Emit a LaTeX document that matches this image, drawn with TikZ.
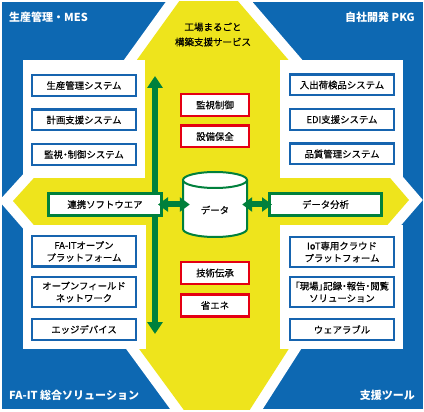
\documentclass[tikz,border=0pt]{standalone}
\usepackage{fontspec}
\setmainfont{Noto Sans CJK JP}
\newfontfamily\jpmed{Noto Sans CJK JP}[FakeBold=0.35]
\usetikzlibrary{arrows.meta}
\definecolor{bgblue}{RGB}{13,104,178}
\definecolor{bxblue}{RGB}{22,100,175}
\definecolor{ylw}{RGB}{238,228,28}
\definecolor{grn}{RGB}{0,128,60}
\definecolor{rd}{RGB}{228,0,18}
\begin{document}
\begin{tikzpicture}[x=1pt,y=-1pt,
  boxtext/.style={font=\jpmed\fontsize{9.4}{12.2}\selectfont, align=center, inner sep=0pt},
  bluebox/.style={boxtext, draw=bxblue, line width=2.4pt, fill=white, minimum width=103.6pt, minimum height=20.6pt},
  redbox/.style={boxtext, draw=rd, line width=2.4pt, fill=white, minimum width=67.6pt, minimum height=21.6pt},
  greenbox/.style={boxtext, draw=grn, line width=2.6pt, fill=white, minimum height=22.5pt},
  corner/.style={font=\fontsize{11}{13}\selectfont\bfseries, text=white, inner sep=0pt},
  garrow/.style={draw=grn, line width=6pt, {Triangle[width=14pt,length=10pt]}-{Triangle[width=14pt,length=10pt]}},
  vgarrow/.style={draw=grn, line width=6pt, {Triangle[width=15pt,length=12pt]}-{Triangle[width=15pt,length=12pt]}}
]
\useasboundingbox (0,0) rectangle (424,412);
% background and yellow diamond
\begin{scope}
  \clip (2,2) rectangle (423,409);
  \fill[bgblue] (2,2) rectangle (423,409);
  \draw[white, line width=21pt, line join=miter, miter limit=10]
    (206,-36) -- (409,200) -- (313,311) -- (219,458) -- (126,331) -- (13,201) -- (121,82) -- cycle;
  \fill[ylw]
    (206,-36) -- (409,200) -- (313,311) -- (219,458) -- (126,331) -- (13,201) -- (121,82) -- cycle;
\end{scope}
% white panels
\fill[white] (23,60) rectangle (145,178);
\fill[white] (280,60) rectangle (403,178);
\fill[white] (23,225) rectangle (146,349);
\fill[white] (280,225) rectangle (403,349);
% corner labels
\node[corner, anchor=west] (c1) at (9,17) {生産管理・MES};
\node[corner, anchor=east] (c2) at (415,17) {自社開発 PKG};
\node[corner, anchor=west] (c3) at (9,395) {FA-IT 総合ソリューション};
\node[corner, anchor=east] (c4) at (415,395) {支援ツール};
% title
\node[font=\jpmed\fontsize{9.5}{15}\selectfont, align=center, inner sep=0pt] (title) at (213,34.5) {工場まるごと\\構築支援サービス};
% vertical green arrow
\coordinate (vtop) at (155,76);
\coordinate (vbot) at (155,334);
\draw[vgarrow] (vtop) -- (vbot);
% blue boxes left
\node[bluebox] (l1) at (84,85.5) {生産管理システム};
\node[bluebox] (l2) at (84,120) {計画支援システム};
\node[bluebox] (l3) at (84,154.5) {監視{\addfontfeature{RawFeature=+palt}・}制御システム};
\node[bluebox, minimum height=30.4pt] (l4) at (84,251.5) {FA-ITオープン\\プラットフォーム};
\node[bluebox, minimum height=30pt] (l5) at (84,292) {オープンフィールド\\ネットワーク};
\node[bluebox] (l6) at (84,329.5) {エッジデバイス};
% blue boxes right
\node[bluebox] (r1) at (342,85) {入出荷検品システム};
\node[bluebox] (r2) at (342,119.5) {EDI支援システム};
\node[bluebox] (r3) at (342,154) {品質管理システム};
\node[bluebox, minimum height=30pt] (r4) at (342,252) {IoT専用クラウド\\プラットフォーム};
\node[bluebox, minimum height=30pt] (r5) at (342,292) {{\addfontfeature{RawFeature=+palt}「現場」記録・報告・閲覧}\\ソリューション};
\node[bluebox] (r6) at (342,329.5) {ウェアラブル};
% red boxes
\node[redbox] (m1) at (215,105) {監視制御};
\node[redbox] (m2) at (215,136.5) {設備保全};
\node[redbox] (m3) at (215,273) {技術伝承};
\node[redbox] (m4) at (215,305.5) {省エネ};
% green boxes
\node[greenbox, minimum width=113.4pt] (lsoft) at (105,204.5) {連携ソフトウエア};
\node[greenbox, minimum width=112.4pt] (anal) at (325.5,204.5) {データ分析};
% cylinder
\fill[white] (183,180) -- (183,229) .. controls (183,233.4) and (197.3,237) .. (215,237)
  .. controls (232.7,237) and (247,233.4) .. (247,229) -- (247,180) -- cycle;
\draw[grn, line width=2pt] (183,180) -- (183,229) .. controls (183,233.4) and (197.3,237) .. (215,237)
  .. controls (232.7,237) and (247,233.4) .. (247,229) -- (247,180);
\draw[grn, line width=2pt, fill=white] (215,180) ellipse [x radius=32pt, y radius=8pt];
\node[minimum width=64pt, minimum height=30pt, inner sep=0pt] (cyl) at (215,204.5) {};
\node[boxtext] (datatext) at (215,210) {データ};
% horizontal arrows
\draw[garrow] ([xshift=-5pt]lsoft.east) -- ([xshift=7pt]cyl.west);
\draw[garrow] ([xshift=-5pt]cyl.east) -- ([xshift=4pt]anal.west);
\end{tikzpicture}
\end{document}
